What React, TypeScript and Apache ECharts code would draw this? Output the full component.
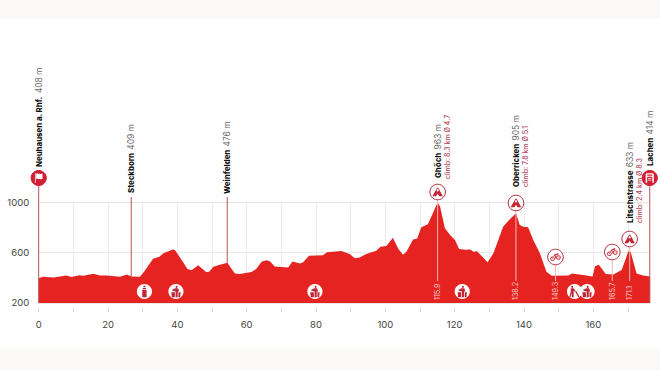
import React, { useEffect, useRef } from "react";
import * as echarts from "echarts";

// Profile: [km, metres]
const profileKm = [0,1.3,4.2,8,9.5,11.7,12.9,15.8,17.7,19.6,23.5,25.4,26.8,29.2,30.4,33,34.8,36,38.7,39.3,41.6,42.9,44.1,46,48.3,49.2,50.4,52.3,54.4,56.6,58,61.4,62.8,64.3,65.7,66.7,68.1,72,73.2,75.4,76.3,78,82,83.2,87.3,89.7,91.2,92.6,94.5,97.4,98.6,100.3,102.2,103.7,105.1,106.1,108,109.2,110.4,112.3,114.7,115.2,115.8,117.2,118.7,120.1,121.3,123,124.6,125.4,126.5,127.8,129.5,131.2,132.6,134,135.5,137.7,138.8,139.8,141.2,142.7,144.6,146.5,148,152.8,153.9,158,159.8,160.5,161.6,163.6,165.8,168.2,169.4,170.1,170.8,172.5,174.4,176.4];
const profileElev = [397,407,402,418,405,420,415,431,418,418,407,426,409,407,447,551,567,594,625,620,527,469,460,500,445,447,487,503,519,434,429,445,471,527,540,532,490,482,530,514,524,575,578,602,612,588,556,562,588,615,647,652,719,633,583,607,705,713,801,825,975,995,966,793,740,700,628,623,625,607,610,572,524,594,700,806,854,913,820,806,801,700,594,447,415,418,434,418,410,492,503,429,426,461,554,610,604,434,418,410];

const xTicks = [0,10,20,30,40,50,60,70,80,90,100,110,120,130,140,150,160,170];
const xLabels = [0,20,40,60,80,100,120,140,160];
const yLabels = [200,600,1000];

const markKm = [0,26.7,54.4,115.1,137.7,149.1,165.5,170.5,176.3];
const markNames = ["Neuhausen a. Rhf.","Steckborn","Weinfelden","Ghöch","Oberricken","","","Litschstrasse","Lachen"];
const markElev = [408,409,476,963,905,0,0,633,414];
const markClimb = ["","","","climb: 8.3 km Ø 4.7","climb: 7.8 km Ø 5.1","","","climb: 2.4 km Ø 8.3",""];
const markKmText = ["","","","115.9","138.2","149.3","165.7","171.1",""];
const markIcon = ["flag","","","mountain","mountain","bike","bike","mountain","finish"];

const serviceKm = [30.5,39.6,79.7,122.2,154.6,158.2];
const serviceIcon = ["bottle","bin","bin","bin","nolitter","bin"];

const RED = "#e52421";
const DARK = "#b1303f";

// presentation only: pixel layout of each mark
const layout = [
  { iconY: 178, stemTop: 186, stemBottom: 303, labelY: 167 },
  { iconY: 0, stemTop: 197, stemBottom: 278, labelY: 193 },
  { iconY: 0, stemTop: 197, stemBottom: 263, labelY: 194 },
  { iconY: 192, stemTop: 200, stemBottom: 281, labelY: 178, climbY: 179 },
  { iconY: 203, stemTop: 211, stemBottom: 281, labelY: 187, climbY: 187 },
  { iconY: 257, stemTop: 265, stemBottom: 281 },
  { iconY: 252, stemTop: 260, stemBottom: 281 },
  { iconY: 239, stemTop: 247, stemBottom: 281, labelY: 223, climbY: 223 },
  { iconY: 178, stemTop: 186, stemBottom: 303, labelY: 166 },
];

const glyphs: Record<string, string> = {
  mountain: "M1 14 L6 5 L8 1 L10 1 L12 5 L17 14 L11.5 14 L9 10 L6.5 14 Z M7.2 5.5 L9 7 L10.8 5.5 L9.6 2.6 L8.4 2.6 Z",
  bike: "M4.5 8 a3.5 3.5 0 1 0 0.01 0 Z M4.5 9.4 a2.1 2.1 0 1 1 -0.01 0 Z M13.5 6 a3.5 3.5 0 1 0 0.01 0 Z M13.5 7.4 a2.1 2.1 0 1 1 -0.01 0 Z M4 11 L7.5 5 L11.5 3.5 L12 2.5 L13.2 3 L13.6 9.5 L12.8 9.5 L12.3 5 L9 6.5 L10 10.5 L9 11.5 L7.5 7 L5 11.5 Z",
  bottle: "M7.6 1 H10.4 V3 H7.6 Z M6.6 4 H11.4 V6 H6.6 Z M6 7 H12 V17 H6 Z",
  bin: "M9.5 1 a1.5 1.5 0 1 0 0.01 0 Z M7.5 4.5 H11.5 L13 9 H11 V17 H8 V9 L3 7.5 L3.5 6.5 Z M2 10 H7 V17 H2.8 Z M12 10 H15 L14.4 17 H12 Z",
  nolitter: "M5.5 1 a1.5 1.5 0 1 0 0.01 0 Z M3.5 4.5 H7.5 L10 8 L8.5 9 L7.5 8 V17 H5 V11 L3 17 H1.5 L3.5 9 Z M11 8 L16 17 H14 L9.5 9 Z",
  flag: "M3 2 H4.2 V17 H3 Z M5 2.5 C8 1.5 11 4 15 2.5 V11 C11 12.5 8 10 5 11 Z",
  finish: "M3 4 Q3 2 5 2 H13 Q15 2 15 4 V16 H12.8 V7 H5.2 V16 H3 Z M5.2 4 V5.6 H12.8 V4 Z M6.5 9 H11.5 V10.2 H6.5 Z M6.5 11.6 H11.5 V12.8 H6.5 Z",
};

function glyph(name: string, cx: number, cy: number, size: number, fill: string) {
  return {
    type: "path",
    shape: { pathData: glyphs[name], x: cx - size / 2, y: cy - size / 2, width: size, height: size, layout: "center" },
    style: { fill },
  };
}

function markChildren(i: number, x: number) {
  const l: any = layout[i];
  const children: any[] = [];
  const icon = markIcon[i];
  const solid = icon === "flag" || icon === "finish";
  const inArea = markKmText[i] !== "";
  children.push({
    type: "line",
    shape: { x1: x, y1: l.stemTop, x2: x, y2: l.stemBottom },
    style: { stroke: inArea ? "#f0b9b8" : "#b7545c", lineWidth: 1 },
  });
  if (icon) {
    children.push({
      type: "circle",
      shape: { cx: x, cy: l.iconY, r: solid ? 7.6 : 7.8 },
      style: { fill: solid ? "#d01f33" : "#fff", stroke: solid ? "#d01f33" : DARK, lineWidth: 1 },
    });
    children.push(glyph(icon, x, l.iconY, solid ? 9.5 : 10.5, solid ? "#fff" : "#c42534"));
  }
  if (markNames[i]) {
    children.push({
      type: "text", x, y: l.labelY, rotation: Math.PI / 2,
      style: {
        text: `{n|${markNames[i]}} {e|${markElev[i]} m}`,
        align: "left", verticalAlign: "middle",
        rich: {
          n: { fontFamily: "Inter", fontWeight: 800, fontSize: 7.8, fill: "#111" },
          e: { fontFamily: "Inter", fontWeight: 400, fontSize: 8.4, fill: "#666" },
        },
      },
    });
  }
  if (markClimb[i]) {
    children.push({
      type: "text", x: x + 9.5, y: l.climbY, rotation: Math.PI / 2,
      style: { text: markClimb[i], align: "left", verticalAlign: "middle", fontFamily: "Inter", fontWeight: 500, fontSize: 7, fill: "#b5485c" },
    });
  }
  if (markKmText[i]) {
    children.push({
      type: "text", x, y: 300, rotation: Math.PI / 2,
      style: { text: markKmText[i], align: "left", verticalAlign: "middle", fontFamily: "Inter", fontSize: 7.2, fill: "#f6c6c4" },
    });
  }
  return children;
}

export default function App() {
  const ref = useRef<HTMLDivElement>(null);
  useEffect(() => {
    document.body.style.margin = "0";
    document.body.style.background = "#fff";
    const chart = echarts.init(ref.current!, null, { renderer: "svg" });
    const xMax = profileKm[profileKm.length - 1];
    chart.setOption({
      animation: false,
      backgroundColor: "#fff",
      graphic: [
        { type: "rect", z: -10, shape: { x: 0, y: 0, width: 660, height: 18 }, style: { fill: "#fbf8f8" } },
        { type: "rect", z: -10, shape: { x: 0, y: 348, width: 660, height: 22 }, style: { fill: "#fbf8f8" } },
      ],
      grid: { left: 38.7, top: 202.3, width: 611.4, height: 100.6, containLabel: false },
      xAxis: {
        type: "value", min: 0, max: xMax, offset: 5,
        axisLine: { show: false },
        axisTick: { show: true, length: 4, customValues: xTicks, lineStyle: { color: "#d4d4d4", width: 1 } },
        axisLabel: { customValues: xLabels, margin: 12, fontFamily: "Inter", fontSize: 9.5, color: "#444", formatter: (v: number) => String(v) },
        splitLine: { show: true, lineStyle: { color: "#ececec", width: 1 } },
      },
      yAxis: {
        type: "value", min: 200, max: 1000,
        axisLine: { show: false },
        axisTick: { show: false, customValues: yLabels },
        axisLabel: { customValues: yLabels, margin: 9.5, fontFamily: "Inter", fontSize: 9.5, color: "#444", formatter: (v: number) => String(v) },
        splitLine: { show: true, lineStyle: { color: "#e8e8e8", width: 1 } },
      },
      series: [
        {
          type: "line", symbol: "none", silent: true, z: 2,
          data: profileKm.map((k, i) => [k, profileElev[i]]),
          lineStyle: { width: 0 },
          areaStyle: { color: RED, opacity: 1, origin: "start" },
        },
        {
          type: "custom", z: 5, silent: true, clip: false,
          data: markKm.map((k) => [k, 200]),
          renderItem: (params: any, api: any) => {
            const x = api.coord([api.value(0), 200])[0];
            return { type: "group", children: markChildren(params.dataIndex, x) };
          },
        },
        {
          type: "custom", z: 6, silent: true, clip: false,
          data: serviceKm.map((k) => [k, 200]),
          renderItem: (params: any, api: any) => {
            const x = api.coord([api.value(0), 200])[0];
            const y = 291.5;
            return {
              type: "group",
              children: [
                { type: "circle", shape: { cx: x, cy: y, r: 7.6 }, style: { fill: "#fff" } },
                glyph(serviceIcon[params.dataIndex], x, y, 11.5, "#c42534"),
              ],
            };
          },
        },
      ],
    });
    return () => chart.dispose();
  }, []);
  return <div ref={ref} style={{ width: 660, height: 370 }} />;
}
